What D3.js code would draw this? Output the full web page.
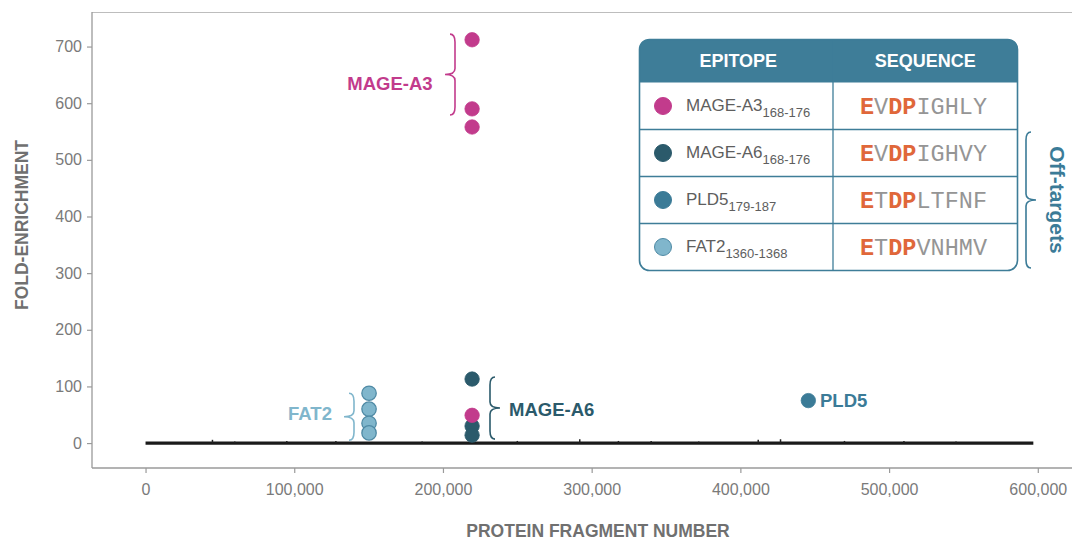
<!DOCTYPE html>
<html>
<head>
<meta charset="utf-8">
<script src="https://cdn.jsdelivr.net/npm/d3@7/dist/d3.min.js"></script>
<style>
  body { margin: 0; background: #fff; }
  svg { display: block; font-family: "Liberation Sans", Arial, sans-serif; }
</style>
</head>
<body>
<svg id="chart" width="1072" height="540"></svg>
<script>
// Peptide hits along the protein fragment library
const epitopes = ["MAGE-A3", "MAGE-A6", "PLD5", "FAT2"];
const subscripts = ["168-176", "168-176", "179-187", "1360-1368"];
const sequences = ["EVDPIGHLY", "EVDPIGHVY", "ETDPLTFNF", "ETDPVNHMV"];
const fillColors = ["#c23b8c", "#2b5a6b", "#3b7b97", "#80b6cc"];
const strokeColors = ["#c23b8c", "#2b5a6b", "#3b7b97", "#4f8aa5"];

// hits: fragment number and fold-enrichment per epitope
const mageA3Fragments = [219600, 219600, 219600, 219600];
const mageA3Values = [712, 590, 558, 49];
const mageA6Fragments = [219600, 219600, 219600];
const mageA6Values = [113, 30, 14];
const pld5Fragments = [445700];
const pld5Values = [75];
const fat2Fragments = [150300, 150300, 150300, 150300];
const fat2Values = [88, 60, 35, 18];

// background fragments (near-zero enrichment) spanning the library
const backgroundFragments = [0, 45000, 60000, 95000, 128000, 186000, 250000, 292000, 318000, 340000, 372000, 412000, 427000, 470000, 510000, 545000, 597000];
const backgroundValues = [0, 4, 1, 2, 2, 1, 2, 5, 2, 2, 1, 4, 5, 2, 2, 1, 0];

const xTicks = [0, 100000, 200000, 300000, 400000, 500000, 600000];
const yTicks = [0, 100, 200, 300, 400, 500, 600, 700];

const svg = d3.select("#chart");
const plotLeft = 92, plotRight = 1072, plotTop = 12, plotBottom = 468;

const x = d3.scaleLinear().domain([-36000, 623000]).range([plotLeft, plotRight]);
const y = d3.scaleLinear().domain([-44, 761]).range([plotBottom, plotTop]);

const axisGrey = "#9a9a9a";
const textGrey = "#7a7a7a";

// frame
svg.append("line").attr("x1", plotLeft).attr("x2", plotRight).attr("y1", plotTop + 0.5).attr("y2", plotTop + 0.5)
  .attr("stroke", "#bdbdbd").attr("stroke-width", 1.2);

const yAxis = svg.append("g").attr("transform", `translate(${plotLeft},0)`)
  .call(d3.axisLeft(y).tickValues(yTicks).tickSize(5).tickPadding(5));
const xAxis = svg.append("g").attr("transform", `translate(0,${plotBottom})`)
  .call(d3.axisBottom(x).tickValues(xTicks).tickSize(5).tickPadding(11).tickFormat(d3.format(",")));
[yAxis, xAxis].forEach(g => {
  g.select(".domain").attr("stroke", axisGrey).attr("stroke-width", 1.3);
  g.selectAll(".tick line").attr("stroke", axisGrey).attr("stroke-width", 1.2);
  g.selectAll(".tick text").attr("fill", textGrey).attr("font-size", 16)
    .attr("font-family", "'Liberation Sans', Arial, sans-serif");
});
// axis lines span the whole plot frame
yAxis.select(".domain").attr("d", `M0,${plotTop}V${plotBottom}`);
xAxis.select(".domain").attr("d", `M${plotLeft},0H${plotRight}`);

// axis titles
svg.append("text").attr("x", 598).attr("y", 537).attr("text-anchor", "middle")
  .attr("font-size", 17.5).attr("font-weight", "bold").attr("fill", "#707070")
  .text("PROTEIN FRAGMENT NUMBER");
svg.append("text").attr("transform", "translate(28,225) rotate(-90)").attr("text-anchor", "middle")
  .attr("font-size", 17.5).attr("font-weight", "bold").attr("fill", "#707070")
  .text("FOLD-ENRICHMENT");

// background fragments: baseline with small bumps
const background = backgroundFragments.map((f, i) => [f, backgroundValues[i]]);
svg.append("path")
  .datum(background)
  .attr("d", d3.line().x(d => x(d[0])).y(y(0)))
  .attr("stroke", "#1a1a1a").attr("stroke-width", 3.2).attr("fill", "none");
svg.append("g").selectAll("line")
  .data(background.filter(d => d[1] > 0))
  .join("line")
  .attr("x1", d => x(d[0])).attr("x2", d => x(d[0]))
  .attr("y1", y(0)).attr("y2", d => y(d[1]) - 1)
  .attr("stroke", "#222").attr("stroke-width", 1.5);

// curly brace path; dir = 1 points right, -1 points left
function brace(xc, y1, y2, w, dir) {
  const ym = (y1 + y2) / 2;
  const q = w / 2 * dir;
  return `M${xc + q},${y1} Q${xc},${y1} ${xc},${y1 + 8}` +
    ` L${xc},${ym - 6} Q${xc},${ym} ${xc + q * 2},${ym}` +
    ` Q${xc},${ym} ${xc},${ym + 6} L${xc},${y2 - 8} Q${xc},${y2} ${xc + q},${y2}`;
}

const braces = [
  { x: 455, y1: y(722), y2: y(558) - 12, dir: -1, color: "#c23b8c" },
  { x: 354, y1: y(88), y2: y(5), dir: -1, color: "#80b6cc" },
  { x: 490, y1: y(113) - 2, y2: y(0) - 4, dir: 1, color: "#2b5a6b" },
  { x: 1026, y1: 132, y2: 268, dir: 1, color: "#3b7b97" }
];
svg.append("g").selectAll("path").data(braces).join("path")
  .attr("d", d => brace(d.x, d.y1, d.y2, 10, d.dir))
  .attr("fill", "none").attr("stroke", d => d.color).attr("stroke-width", 1.6);

// group labels
const groupLabels = [
  { text: "MAGE-A3", x: 390, y: y(635), anchor: "middle", color: "#c23b8c" },
  { text: "FAT2", x: 310, y: y(53), anchor: "middle", color: "#80b6cc" },
  { text: "MAGE-A6", x: 509, y: y(60), anchor: "start", color: "#2b5a6b" },
  { text: "PLD5", x: 820, y: y(75), anchor: "start", color: "#3b7b97" }
];
svg.append("g").selectAll("text").data(groupLabels).join("text")
  .attr("x", d => d.x).attr("y", d => d.y).attr("dy", "0.35em")
  .attr("text-anchor", d => d.anchor).attr("font-size", 18.5).attr("font-weight", "bold")
  .attr("fill", d => d.color).text(d => d.text);

// hit points
const hits = [
  { frags: fat2Fragments, vals: fat2Values, k: 3 },
  { frags: mageA6Fragments, vals: mageA6Values, k: 1 },
  { frags: mageA3Fragments, vals: mageA3Values, k: 0 },
  { frags: pld5Fragments, vals: pld5Values, k: 2 }
];
const pts = hits.flatMap(h => h.frags.map((f, i) => ({ f, v: h.vals[i], k: h.k })));
svg.append("g").selectAll("circle").data(pts).join("circle")
  .attr("cx", d => x(d.f)).attr("cy", d => y(d.v)).attr("r", 7.2)
  .attr("fill", d => fillColors[d.k]).attr("stroke", d => strokeColors[d.k])
  .attr("stroke-width", d => d.k === 3 ? 1.3 : 0.8);

// epitope table
const tx0 = 639.5, tx1 = 1017.5, ty0 = 39.5, headH = 43, rowH = 47, colX = 833;
const ty1 = ty0 + headH + rowH * epitopes.length;
const teal = "#3e7d98";
const table = svg.append("g");
table.append("path")
  .attr("d", `M${tx0},${ty0 + headH} V${ty0 + 10} Q${tx0},${ty0} ${tx0 + 10},${ty0} H${tx1 - 10} Q${tx1},${ty0} ${tx1},${ty0 + 10} V${ty0 + headH} Z`)
  .attr("fill", teal);
table.append("rect").attr("x", tx0).attr("y", ty0).attr("width", tx1 - tx0).attr("height", ty1 - ty0)
  .attr("rx", 10).attr("fill", "none").attr("stroke", teal).attr("stroke-width", 1.6);
table.append("line").attr("x1", colX).attr("x2", colX).attr("y1", ty0).attr("y2", ty1)
  .attr("stroke", teal).attr("stroke-width", 1.3);
table.selectAll("line.row").data(d3.range(1, epitopes.length)).join("line").attr("class", "row")
  .attr("x1", tx0).attr("x2", tx1)
  .attr("y1", i => ty0 + headH + i * rowH).attr("y2", i => ty0 + headH + i * rowH)
  .attr("stroke", teal).attr("stroke-width", 1.3);
table.selectAll("text.head").data(["EPITOPE", "SEQUENCE"]).join("text").attr("class", "head")
  .attr("x", (d, i) => i === 0 ? (tx0 + colX) / 2 + 2 : (colX + tx1) / 2)
  .attr("y", ty0 + headH / 2).attr("dy", "0.36em").attr("text-anchor", "middle")
  .attr("fill", "#fff").attr("font-size", 18).attr("font-weight", "bold").text(d => d);

const rows = table.selectAll("g.erow").data(epitopes).join("g").attr("class", "erow")
  .attr("transform", (d, i) => `translate(0,${ty0 + headH + i * rowH + rowH / 2})`);
rows.append("circle").attr("cx", 663).attr("cy", 0).attr("r", 8.5)
  .attr("fill", (d, i) => fillColors[i]).attr("stroke", (d, i) => strokeColors[i]).attr("stroke-width", 1);
const nameText = rows.append("text").attr("x", 686).attr("y", -1).attr("dy", "0.35em")
  .attr("fill", "#5e5e5e").attr("font-size", 17);
nameText.append("tspan").text(d => d);
nameText.append("tspan").attr("dy", 6).attr("font-size", 13).text((d, i) => subscripts[i]);

const seqText = rows.append("text").attr("x", 860).attr("y", 0).attr("dy", "0.35em")
  .attr("font-family", "'Liberation Mono', 'DejaVu Sans Mono', monospace").attr("font-size", 23.5);
seqText.selectAll("tspan").data(d => sequences[epitopes.indexOf(d)].split("").map((c, j) => ({ c, j })))
  .join("tspan")
  .attr("fill", d => (d.j === 0 || d.j === 2 || d.j === 3) ? "#e0673a" : "#959595")
  .attr("font-weight", d => (d.j === 0 || d.j === 2 || d.j === 3) ? "bold" : "normal")
  .text(d => d.c);

svg.append("text").attr("transform", "translate(1050,200) rotate(90)").attr("text-anchor", "middle")
  .attr("font-size", 21).attr("font-weight", "bold").attr("fill", "#3b7b97").text("Off-targets");
</script>
</body>
</html>
